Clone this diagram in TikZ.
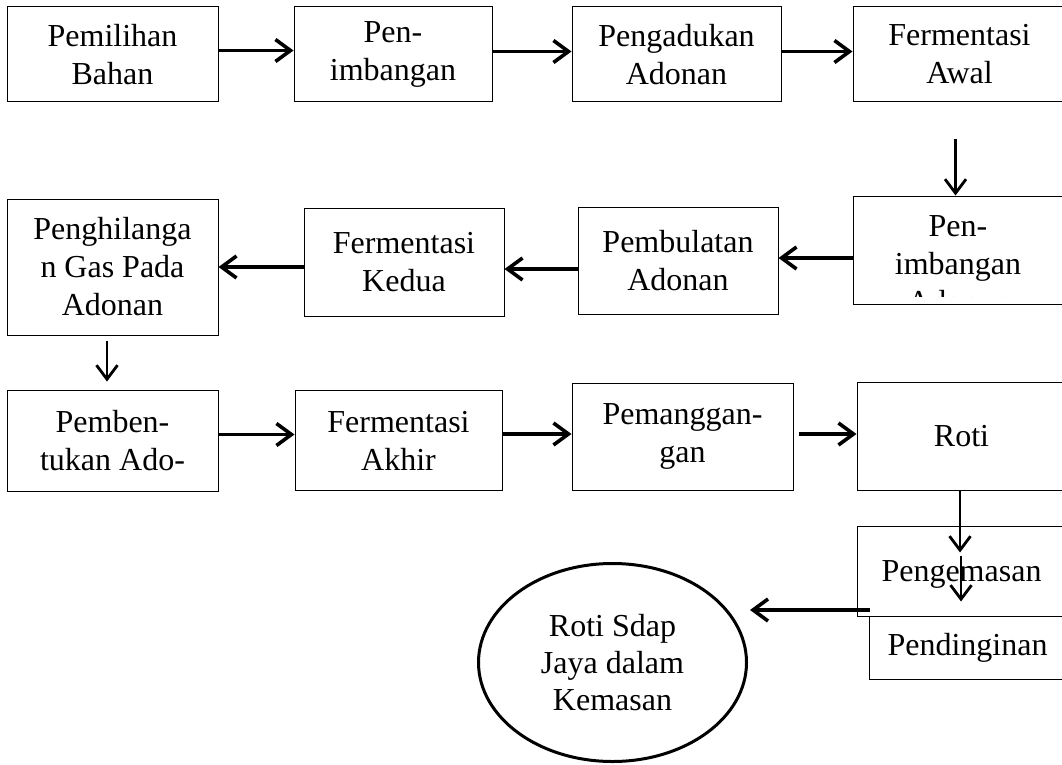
\documentclass[tikz,border=0pt]{standalone}
\usepackage{fontspec}
\setmainfont{Liberation Serif}
\usetikzlibrary{arrows.meta,shapes.geometric}
\begin{document}
\begin{tikzpicture}[x=1pt,y=-1pt,
  box/.style={draw, line width=1pt, align=center, inner sep=0pt, font=\fontsize{32}{38}\selectfont},
  txt/.style={align=center, inner sep=0pt, font=\fontsize{32}{38}\selectfont},
  arr/.style={line width=3.6pt, -{Straight Barb[length=15pt,width=22pt]}},
  varr/.style={line width=2.8pt, -{Straight Barb[length=14pt,width=21pt]}}]
\useasboundingbox (0,0) rectangle (1062,765);
\fill[white] (0,0) rectangle (1062,765);
% row 1
\node[box, minimum width=211pt, minimum height=95pt] (b1) at (112.5,54.5) {Pemilihan\\Bahan};
\node[box, minimum width=198pt, minimum height=95pt] (b2) at (393,54.5) {Pen-\\imbangan};
\node[box, minimum width=209pt, minimum height=95pt] (b3) at (676.5,54.5) {Pengadukan\\Adonan};
\node[box, minimum width=213pt, minimum height=95pt] (b4) at (959.5,54.5) {Fermentasi\\Awal};
% row 2
\node[box, minimum width=213pt, minimum height=108pt] (b5) at (959.5,250) {};
\begin{scope}
\clip (853,196) rectangle (1066,296);
\node[txt, anchor=north] (b5t) at (958,215) {Pen-\\imbangan\\Adonan};
\end{scope}
\node[box, minimum width=200pt, minimum height=107pt] (b6) at (678,260.5) {Pembulatan\\Adonan};
\node[box, minimum width=200pt, minimum height=108pt] (b7) at (404,262) {Fermentasi\\Kedua};
\node[box, minimum width=211pt, minimum height=136pt] (b8) at (112.5,267) {Penghilanga\\n Gas Pada\\Adonan};
% row 3
\node[box, minimum width=211pt, minimum height=101pt] (b9) at (112.5,440.5) {Pemben-\\tukan Ado-};
\node[box, minimum width=207pt, minimum height=100pt] (b10) at (398.5,440.5) {Fermentasi\\Akhir};
\node[box, minimum width=221pt, minimum height=107pt] (b11) at (682.5,436.5) {Pemanggan-\\gan};
\node[box, minimum width=209pt, minimum height=108pt] (b12) at (961.5,436) {Roti};
% bottom
\node[box, minimum width=209pt, minimum height=90pt, text depth=0pt] (b13) at (961.5,571) {Pengemasan};
\node[box, minimum width=197pt, minimum height=63pt] (b14) at (967.5,647.5) {Pendinginan};
\node[draw, ellipse, line width=3pt, minimum width=268pt, minimum height=198pt, inner sep=0pt, align=center, font=\fontsize{32}{37}\selectfont] (e) at (612.5,662.5) {Roti Sdap\\Jaya dalam\\Kemasan};
\coordinate (etip) at (750,610);
% connectors
\draw[arr] ([yshift=4pt]b1.east) -- ([yshift=4pt]b2.west);
\draw[arr] ([yshift=3pt]b2.east) -- ([yshift=3pt]b3.west);
\draw[arr] ([yshift=3pt]b3.east) -- ([yshift=3pt]b4.west);
\draw[varr] ([xshift=-4pt,yshift=-36pt]b4.south) -- ([xshift=-4pt]b5.north);
\draw[arr] ([yshift=-8pt]b5.west) -- ([yshift=2.5pt]b6.east);
\draw[arr] ([yshift=-8.5pt]b6.west) -- ([yshift=-7pt]b7.east);
\draw[arr] ([yshift=-5pt]b7.west) -- (b8.east);
\draw[varr] ([xshift=-5.5pt,yshift=-5pt]b8.south) -- ([xshift=-5.5pt,yshift=8pt]b9.north);
\draw[arr] ([yshift=6pt]b9.east) -- ([yshift=6pt]b10.west);
\draw[arr] ([yshift=6.5pt]b10.east) -- ([yshift=2.5pt]b11.west);
\draw[arr] ([xshift=5pt,yshift=2.5pt]b11.east) -- ([yshift=2pt]b12.west);
\draw[varr] ([xshift=-1.5pt]b12.south) -- ([xshift=-1.5pt,yshift=-27pt]b13.north);
\draw[varr] ([xshift=-0.5pt,yshift=-30pt]b13.north) -- ([xshift=-6.5pt,yshift=14pt]b14.north);
\draw[arr] ([xshift=13pt,yshift=-39pt]b13.west) -- (etip);
\end{tikzpicture}
\end{document}
